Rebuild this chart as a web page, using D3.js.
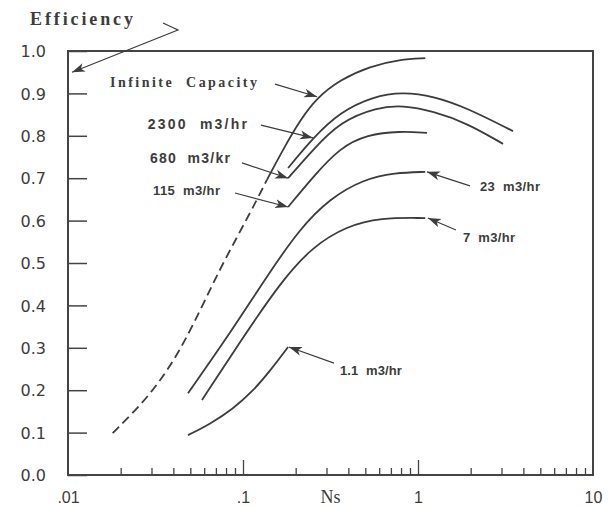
<!DOCTYPE html>
<html>
<head>
<meta charset="utf-8">
<script src="https://cdn.jsdelivr.net/npm/d3@7"></script>
<style>
  html, body { margin: 0; padding: 0; background: #fff; }
  svg { display: block; }
  text { white-space: pre; }
</style>
</head>
<body>
<svg id="chart" width="609" height="507"></svg>
<script>
// ---------------- DATA ----------------
const yTickValues = [0, 0.1, 0.2, 0.3, 0.4, 0.5, 0.6, 0.7, 0.8, 0.9, 1.0];
const xLabelValues = [0.01, 0.1, 1, 10];
const xLabelTexts = [".01", ".1", "1", "10"];
const xMajorTicks = [0.1, 1];
const xMinorTicks = [0.02,0.03,0.04,0.05,0.06,0.07,0.08,0.09,
                     0.2,0.3,0.4,0.5,0.6,0.7,0.8,0.9,
                     2,3,4,5,6,7,8,9];

// Infinite capacity (dashed extrapolation + solid part)
const infDashNs  = [0.018, 0.029, 0.042, 0.057, 0.074, 0.100, 0.120, 0.137];
const infDashEff = [0.099, 0.184, 0.280, 0.388, 0.487, 0.587, 0.649, 0.696];
const infNs  = [0.137, 0.169, 0.212, 0.265, 0.358, 0.532, 0.789, 1.10];
const infEff = [0.696, 0.767, 0.837, 0.890, 0.932, 0.964, 0.980, 0.983];
// 2300 m3/hr
const q2300Ns  = [0.181, 0.251, 0.358, 0.553, 0.820, 1.219, 1.905, 3.49];
const q2300Eff = [0.724, 0.795, 0.856, 0.893, 0.903, 0.894, 0.866, 0.811];
// 680 m3/hr
const q680Ns  = [0.181, 0.251, 0.358, 0.583, 0.820, 1.219, 1.905, 3.06];
const q680Eff = [0.700, 0.767, 0.833, 0.867, 0.872, 0.858, 0.830, 0.781];
// 115 m3/hr
const q115Ns  = [0.181, 0.251, 0.358, 0.512, 0.789, 1.125];
const q115Eff = [0.632, 0.703, 0.772, 0.803, 0.811, 0.807];
// 23 m3/hr
const q23Ns  = [0.0485, 0.0843, 0.137, 0.212, 0.314, 0.485, 0.740, 1.10];
const q23Eff = [0.193, 0.334, 0.469, 0.582, 0.652, 0.697, 0.713, 0.715];
// 7 m3/hr
const q7Ns  = [0.0583, 0.0962, 0.1626, 0.251, 0.393, 0.607, 1.10];
const q7Eff = [0.177, 0.314, 0.453, 0.540, 0.587, 0.607, 0.606];
// 1.1 m3/hr
const q11Ns  = [0.0485, 0.0647, 0.0877, 0.114, 0.1425, 0.181];
const q11Eff = [0.094, 0.120, 0.156, 0.198, 0.245, 0.302];

const labelTexts = ["Infinite  Capacity", "2300  m3/hr", "680  m3/kr", "115  m3/hr", "23  m3/hr", "7  m3/hr", "1.1  m3/hr"];

// ---------------- LAYOUT ----------------
const W = 609, H = 507;
const x = d3.scaleLog().domain([0.01, 10]).range([68, 593]);
const y = d3.scaleLinear().domain([0, 1]).range([475, 51]);
const ink = "#3c3c3c";

const svg = d3.select("#chart");
svg.append("rect").attr("width", W).attr("height", H).attr("fill", "#fff");

const defs = svg.append("defs");
defs.append("marker")
  .attr("id", "ah").attr("markerUnits", "userSpaceOnUse")
  .attr("viewBox", "0 -5 14 10").attr("refX", 13).attr("refY", 0)
  .attr("markerWidth", 14).attr("markerHeight", 10).attr("orient", "auto")
  .append("path").attr("d", "M0,-4.5L13,0L0,4.5L3.5,0Z").attr("fill", ink);

// frame
svg.append("rect")
  .attr("x", x(0.01)).attr("y", y(1))
  .attr("width", x(10) - x(0.01)).attr("height", y(0) - y(1))
  .attr("fill", "none").attr("stroke", "#444").attr("stroke-width", 2);

// Y axis (ticks inside)
const yAxis = d3.axisLeft(y).tickValues(yTickValues).tickFormat(d3.format(".1f"))
  .tickSizeInner(-19).tickSizeOuter(0).tickPadding(22);
const gy = svg.append("g").attr("transform", `translate(${x(0.01)},0)`).call(yAxis);
gy.select(".domain").remove();
gy.selectAll("line").attr("stroke", "#444").attr("stroke-width", 1.5);
gy.selectAll("text").attr("font-family", "DejaVu Sans").attr("font-size", 16)
  .attr("fill", ink).attr("dy", "0.36em");

// X axis ticks (inside) and labels
const gxMinor = svg.append("g").attr("transform", `translate(0,${y(0)})`)
  .call(d3.axisBottom(x).tickValues(xMinorTicks).tickFormat("").tickSizeInner(-7).tickSizeOuter(0));
const gxMajor = svg.append("g").attr("transform", `translate(0,${y(0)})`)
  .call(d3.axisBottom(x).tickValues(xMajorTicks).tickFormat("").tickSizeInner(-15).tickSizeOuter(0));
const gxLab = svg.append("g").attr("transform", `translate(0,${y(0)})`)
  .call(d3.axisBottom(x).tickValues(xLabelValues)
    .tickFormat((d, i) => xLabelTexts[i]).tickSize(0).tickPadding(17));
[gxMinor, gxMajor, gxLab].forEach(g => {
  g.select(".domain").remove();
  g.selectAll("line").attr("stroke", "#444").attr("stroke-width", 1.3);
});
gxLab.selectAll("text").attr("font-family", "Liberation Sans").attr("font-size", 16).attr("fill", ink);

// axis titles
svg.append("text").attr("x", (x(0.1) + x(1)) / 2).attr("y", 503)
  .attr("text-anchor", "middle").attr("font-family", "Liberation Serif").attr("font-size", 18)
  .attr("fill", ink).text("Ns");
svg.append("text").attr("x", 30).attr("y", 25)
  .attr("font-family", "Liberation Serif").attr("font-weight", "bold").attr("font-size", 18)
  .attr("textLength", 103).attr("lengthAdjust", "spacing")
  .attr("fill", ink).text("Efficiency");

// curves
const line = d3.line().x(d => x(d[0])).y(d => y(d[1])).curve(d3.curveBasis);
const zip = (a, b) => a.map((v, i) => [v, b[i]]);
const series = [
  {ns: infDashNs, eff: infDashEff, dash: "9,5"},
  {ns: infNs, eff: infEff},
  {ns: q2300Ns, eff: q2300Eff},
  {ns: q680Ns, eff: q680Eff},
  {ns: q115Ns, eff: q115Eff},
  {ns: q23Ns, eff: q23Eff},
  {ns: q7Ns, eff: q7Eff},
  {ns: q11Ns, eff: q11Eff},
];
svg.append("g").selectAll("path").data(series).join("path")
  .attr("d", s => line(zip(s.ns, s.eff)))
  .attr("fill", "none").attr("stroke", ink).attr("stroke-width", 1.8)
  .attr("stroke-dasharray", s => s.dash || null);

// annotations (positions in data units: [Ns, efficiency])
const annots = [
  {text: labelTexts[0], at: [0.01738, 0.915], w: 147, size: 14, serif: true, weight: "bold", from: [0.1524, 0.922], to: [0.265, 0.892]},
  {text: labelTexts[1], at: [0.0286, 0.816], w: 99, size: 14, weight: "bold", from: [0.1267, 0.825], to: [0.251, 0.795]},
  {text: labelTexts[2], at: [0.0294, 0.736], w: 80, size: 14, weight: "bold", from: [0.0986, 0.736], to: [0.181, 0.700]},
  {text: labelTexts[3], at: [0.0306, 0.661], w: 67, size: 13, weight: "bold", from: [0.090, 0.665], to: [0.181, 0.632]},
  {text: labelTexts[4], at: [2.26, 0.670], w: 60, size: 13, weight: "bold", from: [1.98, 0.682], to: [1.125, 0.715]},
  {text: labelTexts[5], at: [1.807, 0.550], w: 52, size: 13, weight: "bold", from: [1.648, 0.578], to: [1.14, 0.606]},
  {text: labelTexts[6], at: [0.358, 0.236], w: 62, size: 13, weight: "bold", from: [0.331, 0.264], to: [0.183, 0.302]},
];
const ga = svg.append("g");
annots.forEach(a => {
  ga.append("text").attr("x", x(a.at[0])).attr("y", y(a.at[1]))
    .attr("font-family", a.serif ? "Liberation Serif" : "Liberation Sans")
    .attr("font-weight", a.weight).attr("font-size", a.size)
    .attr("textLength", a.w).attr("lengthAdjust", "spacing")
    .attr("fill", ink).text(a.text);
  ga.append("line")
    .attr("x1", x(a.from[0])).attr("y1", y(a.from[1]))
    .attr("x2", x(a.to[0])).attr("y2", y(a.to[1]))
    .attr("stroke", ink).attr("stroke-width", 1.2).attr("marker-end", "url(#ah)");
});

// "Efficiency" pointer arrow to the y axis
const effArrow = [[0.0349, 1.066], [0.0425, 1.0495], [0.01054, 0.950]];
svg.append("path")
  .attr("d", d3.line().x(d => x(d[0])).y(d => y(d[1]))(effArrow))
  .attr("fill", "none").attr("stroke", ink).attr("stroke-width", 1.2)
  .attr("marker-end", "url(#ah)");
</script>
</body>
</html>
